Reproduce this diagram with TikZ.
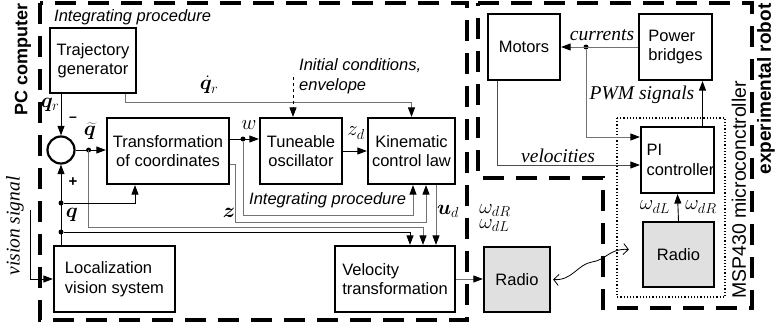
\documentclass[tikz,border=0pt]{standalone}
\usepackage{fontspec}
\setmainfont{Liberation Sans}
\newfontfamily\serifit{Liberation Serif}
\usepackage{bm}
\usetikzlibrary{arrows.meta}
\usetikzlibrary{calc}

\begin{document}
\begin{tikzpicture}[x=1pt, y=-1pt,
  block/.style={draw, line width=2.2pt, inner sep=2pt, font=\fontsize{16.5}{19.5}\selectfont},
  grayblock/.style={block, fill=black!12},
  sumnode/.style={draw, circle, line width=2.2pt, minimum size=27pt, inner sep=0pt},
  arr/.style={-{Triangle[length=9.5pt,width=7pt,color=black]}, line width=0.9pt},
  garr/.style={arr, draw=black!55},
  dot/.style={circle, fill, inner sep=0pt, minimum size=5pt},
  mlbl/.style={font=\fontsize{19.5}{15}\selectfont, inner sep=0pt},
  slbl/.style={font=\fontsize{19.5}{21}\selectfont\serifit\itshape, inner sep=1pt},
  ilbl/.style={font=\fontsize{16.5}{20}\selectfont\itshape, inner sep=1pt},
  frame/.style={line width=4pt, dash pattern=on 21pt off 12pt}]
  \useasboundingbox (0,0) rectangle (776,327);

  % frames
  \draw[frame] (40,3) rectangle (467,320);
  \draw[frame] (478,3) -- (752,3) -- (752,308) -- (603,308) -- (603,178) -- (478,178) -- cycle;
  \draw[dotted, line width=1.2pt] (617,118) rectangle (725,297);
  \node[font=\fontsize{18}{20}\selectfont\bfseries, rotate=90] (pclab) at (23,59) {PC computer};
  \node[font=\fontsize{19}{21}\selectfont\bfseries, rotate=90] (roblab) at (766,89) {experimental robot};
  \node[font=\fontsize{19.5}{21}\selectfont, rotate=90] (msplab) at (739,190) {MSP430 microconctroller};

  % blocks
  \node[block, align=center, minimum width=86pt, minimum height=65pt] (traj) at (93,60.5) {Trajectory\\generator};
  \node[sumnode] (sum) at (61,150) {};
  \node[block, align=center, minimum width=122pt, minimum height=66pt] (trans) at (168,151) {Transformation\\of coordinates};
  \node[block, align=center, minimum width=82pt, minimum height=66pt] (osc) at (301,151) {Tuneable\\oscillator};
  \node[block, align=center, minimum width=87pt, minimum height=66pt] (kin) at (411.5,151) {Kinematic\\control law};
  \node[block, align=left, minimum width=121pt, minimum height=66pt] (loc) at (114.5,279) {Localization\\vision system};
  \node[block, align=left, minimum width=120pt, minimum height=66pt] (vel) at (395,279) {Velocity\\transformation};
  \node[grayblock, minimum width=66pt, minimum height=65pt] (radioL) at (517,279.5) {Radio};
  \node[block, minimum width=72pt, minimum height=66pt] (motors) at (524,47) {Motors};
  \node[block, align=left, minimum width=73pt, minimum height=66pt] (power) at (675.5,47) {Power\\bridges};
  \node[block, align=left, minimum width=73pt, minimum height=66pt, text width=62pt] (pi) at (677.5,160) {PI\\controller};
  \node[grayblock, minimum width=71pt, minimum height=65pt] (radioR) at (678.5,254.5) {Radio};

  % junctions
  \coordinate (qt) at ([xshift=13pt]sum.east);
  \node[dot] at (qt) {};
  \node[dot] (qa) at (sum.south |- 0,203) {};
  \node[dot] (qb) at (sum.south |- 0,232) {};
  \node[dot] (wd) at (243,139) {};
  \node[dot] (cd) at (586,47) {};
  \coordinate (init) at (293,77);
  \coordinate (vis) at (30,210);

  % connectors
  \draw[arr] (sum.north |- traj.south) -- (sum.north);
  \draw[garr] ([xshift=-12pt]traj.south east) -- ++(0,8) -| (kin.north);
  \draw[arr, dashed, line width=0.7pt] (init) -- (init |- osc.north);
  \draw[arr] (sum.east) -- (sum.east -| trans.west);
  \draw[garr] (qt) -- ++(0,77) -| ([xshift=28pt]vel.north);
  \draw[arr] (sum.south |- loc.north) -- (sum.south);
  \draw[arr] (qa) -| ([xshift=-33pt]trans.south);
  \draw[arr] (qb) -| ([xshift=15pt]vel.north);
  \draw[arr] ([yshift=12pt]trans.east) -- ([yshift=12pt]trans.east -| osc.west);
  \draw[garr] (wd) -- ++(0,76) -| ([xshift=1.5pt]kin.south);
  \draw[garr] ([yshift=-13pt]trans.east) -- ++(5,0) -- ++(0,58) -| ([xshift=14.5pt]kin.south);
  \draw[arr] (osc.east) -- (osc.east -| kin.west);
  \draw[garr] ([xshift=24.5pt]kin.south) -- ([xshift=24.5pt]kin.south |- vel.north);
  \draw[garr] (vel.east) -- (vel.east -| radioL.west);
  \draw[{Straight Barb[length=5pt,width=11pt]}-{Straight Barb[length=5pt,width=11pt]}, line width=0.8pt]
    ([xshift=2pt]radioL.east) .. controls (572,281) and (578,264) .. (592,262)
    .. controls (606,260) and (610,248) .. ([shift={(-13pt,5pt)}]radioR.west);
  \draw[arr] (radioR.north) -- (pi.south);
  \draw[garr] (power.west) -- (motors.east);
  \draw[garr] (cd) |- ([yshift=23pt]pi.west);
  \draw[arr, draw=black!70] ([xshift=-27pt]motors.south) |- ([yshift=-5pt]pi.west);
  \draw[arr] ([xshift=25pt]pi.north) -- ([xshift=25pt]pi.north |- power.south);
  \draw[arr] (vis) |- (loc.west);

  % labels
  \node[ilbl, anchor=west] (intlab1) at (53,17) {Integrating procedure};
  \node[ilbl, anchor=west] (intlab2) at (248,200) {Integrating procedure};
  \node[ilbl, anchor=west, align=left] (initlab) at (298,76) {Initial conditions,\\envelope};
  \node[mlbl] (qrlab) at (50,105) {$\bm{q}_r$};
  \node[font=\fontsize{14}{14}\selectfont\bfseries, inner sep=0pt] (minlab) at (73,119) {--};
  \node[mlbl] (qtlab) at (90,131) {$\widetilde{\bm{q}}$};
  \node[font=\fontsize{15}{15}\selectfont\bfseries, inner sep=0pt] (pluslab) at (73,182) {+};
  \node[mlbl] (qlab) at (72,215) {$\bm{q}$};
  \node[mlbl] (qdlab) at (209,85) {$\dot{\bm{q}}_r$};
  \node[mlbl] (wlab) at (249,125) {$w$};
  \node[mlbl] (zdlab) at (356,133) {$z_d$};
  \node[mlbl] (zlab) at (229,213) {$\bm{z}$};
  \node[mlbl] (udlab) at (448,211) {$\bm{u}_d$};
  \node[mlbl, align=left] (omlab) at (495,218) {$\omega_{dR}$\\$\omega_{dL}$};
  \node[mlbl] (omllab) at (655,207) {$\omega_{dL}$};
  \node[mlbl] (omrlab) at (701,207) {$\omega_{dR}$};
  \node[slbl] (curlab) at (602,35) {currents};
  \node[slbl] (pwmlab) at (642,95) {PWM signals};
  \node[slbl] (vellab) at (558,156) {velocities};
  \node[slbl, rotate=90] (vislab) at (15,226) {vision signal};
\end{tikzpicture}
\end{document}
